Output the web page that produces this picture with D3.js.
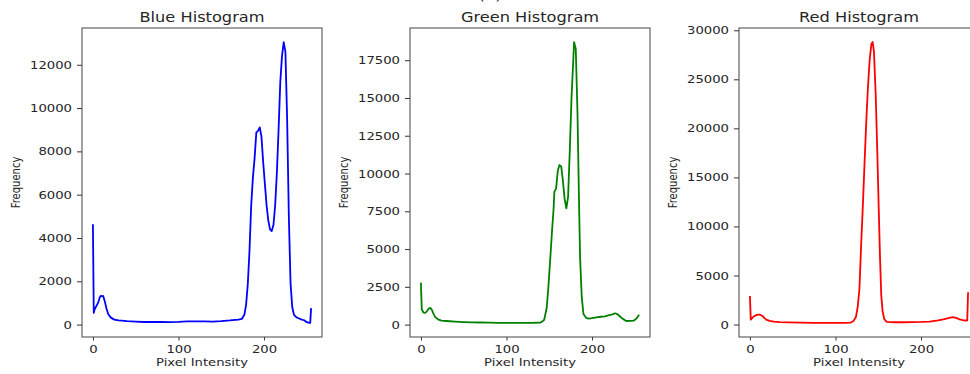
<!DOCTYPE html>
<html>
<head>
<meta charset="utf-8">
<script src="https://cdn.jsdelivr.net/npm/d3@7"></script>
<style>
  body { margin: 0; background: #fff; }
  text { font-family: "DejaVu Sans", sans-serif; fill: #262626; }
</style>
</head>
<body>
<script>
//============ histogram data ============//
var intensityBlue = [0, 1, 2, 4, 6, 8, 9, 11, 12, 14, 16, 18, 21, 25, 30, 40, 50, 60, 70, 80, 90, 100, 110, 120, 130, 140, 150, 160, 170, 174, 177, 179, 181, 183, 185, 187, 189, 191, 193, 195, 197, 199, 201, 203, 205, 207, 209, 211, 213, 215, 217, 219, 221, 223, 225, 227, 229, 231, 233, 235, 238, 241, 244, 247, 250, 253, 254, 255];
var frequencyBlue = [4630, 540, 700, 850, 1000, 1250, 1320, 1310, 1320, 1050, 720, 480, 320, 230, 190, 160, 140, 120, 120, 125, 115, 125, 150, 145, 150, 140, 160, 190, 230, 260, 450, 900, 1850, 3400, 5500, 6800, 7700, 8880, 8950, 9110, 8680, 7500, 6500, 5500, 4800, 4400, 4320, 4600, 5500, 7000, 9000, 11200, 12400, 13050, 12600, 9500, 5000, 1900, 800, 450, 330, 280, 230, 200, 110, 75, 80, 760];

var intensityGreen = [0, 1, 3, 5, 7, 9, 11, 13, 15, 17, 20, 24, 30, 40, 50, 60, 70, 80, 90, 100, 110, 120, 130, 140, 144, 147, 149, 151, 153, 155, 156, 158, 160, 162, 164, 166, 168, 170, 172, 174, 176, 178, 179, 181, 183, 185, 186, 188, 190, 193, 196, 200, 205, 210, 215, 220, 224, 227, 230, 233, 236, 240, 245, 249, 252, 255];
var frequencyGreen = [2780, 1000, 800, 780, 880, 1050, 1110, 950, 680, 480, 350, 270, 240, 200, 170, 150, 140, 130, 120, 110, 115, 110, 120, 140, 300, 1100, 2500, 4200, 6000, 7600, 8800, 9000, 10200, 10560, 10450, 9500, 8300, 7700, 8450, 11500, 15000, 17400, 18700, 18240, 14000, 7500, 4500, 1800, 700, 450, 400, 430, 480, 520, 550, 620, 680, 750, 680, 520, 380, 240, 250, 270, 400, 650];

var intensityRed = [0, 1, 3, 5, 8, 11, 13, 15, 17, 19, 23, 28, 35, 45, 60, 75, 90, 100, 110, 118, 121, 124, 126, 128, 130, 132, 134, 136, 138, 140, 142, 143.5, 145, 147, 149, 150.5, 152, 153.5, 155, 157, 160, 170, 180, 190, 200, 210, 220, 226, 232, 237, 241, 245, 249, 252, 254, 255];
var frequencyRed = [2900, 510, 700, 850, 980, 1020, 950, 850, 650, 500, 380, 290, 250, 220, 190, 170, 160, 160, 165, 200, 350, 800, 1800, 3600, 8100, 12100, 16500, 20700, 24300, 27000, 28600, 28800, 27800, 23500, 17200, 12000, 7000, 3000, 1400, 550, 280, 230, 230, 240, 260, 300, 430, 530, 650, 750, 680, 520, 450, 410, 420, 3300];

var xTicks = [0, 100, 200];
var yTicksBlue = [0, 2000, 4000, 6000, 8000, 10000, 12000];
var yTicksGreen = [0, 2500, 5000, 7500, 10000, 12500, 15000, 17500];
var yTicksRed = [0, 5000, 10000, 15000, 20000, 25000, 30000];

//============ layout ============//
var W = 970, H = 374;
var marginTop = 28, w = 240, h = 309;
var sx = 1.2; // the source picture is stretched sideways, so is the text

var panels = [
  {title: 'Blue Histogram', color: '#0000ff', xs: intensityBlue, ys: frequencyBlue, yTicks: yTicksBlue, left: 82},
  {title: 'Green Histogram', color: '#008000', xs: intensityGreen, ys: frequencyGreen, yTicks: yTicksGreen, left: 410},
  {title: 'Red Histogram', color: '#ff0000', xs: intensityRed, ys: frequencyRed, yTicks: yTicksRed, left: 739}
];

var svg = d3.select('body').append('svg')
  .attr('width', W)
  .attr('height', H);

// matplotlib style 5% margins
function pad(ext) {
  var r = ext[1] - ext[0];
  return [ext[0] - 0.05 * r, ext[1] + 0.05 * r];
}

// sub-figure caption, mostly cut off at the top
svg.append('text')
  .attr('transform', 'translate(490,0) scale(' + sx + ',1)')
  .attr('text-anchor', 'middle')
  .style('font-size', '14px')
  .text('(a)');

panels.forEach(function(p) {
  var g = svg.append('g')
    .attr('transform', 'translate(' + p.left + ',' + marginTop + ')');

  var x = d3.scaleLinear().domain(pad(d3.extent(p.xs))).range([0, w]);
  var y = d3.scaleLinear().domain(pad(d3.extent(p.ys))).range([h, 0]);

  var pts = p.xs.map(function(v, i) { return [v, p.ys[i]]; });

  var line = d3.line()
    .x(function(d) { return x(d[0]); })
    .y(function(d) { return y(d[1]); });

  g.append('path')
    .datum(pts)
    .attr('d', line)
    .attr('fill', 'none')
    .attr('stroke', p.color)
    .attr('stroke-width', 1.8)
    .attr('stroke-linejoin', 'round');

  // x axis
  var gx = g.append('g')
    .attr('transform', 'translate(0,' + h + ')')
    .call(d3.axisBottom(x).tickValues(xTicks).tickFormat(d3.format('d'))
      .tickSize(3.5).tickSizeOuter(0).tickPadding(4.7));
  gx.select('.domain').remove();
  gx.selectAll('line').attr('stroke', '#333');
  gx.selectAll('text')
    .attr('transform', 'scale(' + sx + ',1)')
    .style('font-size', '11px')
    .style('font-family', '"DejaVu Sans", sans-serif')
    .attr('fill', '#262626');

  // y axis
  var gy = g.append('g')
    .call(d3.axisLeft(y).tickValues(p.yTicks).tickFormat(d3.format('d'))
      .tickSize(5).tickSizeOuter(0));
  gy.select('.domain').remove();
  gy.selectAll('line').attr('stroke', '#333');
  gy.selectAll('text')
    .attr('x', -10 / sx)
    .attr('transform', 'scale(' + sx + ',1)')
    .style('font-size', '11px')
    .style('font-family', '"DejaVu Sans", sans-serif')
    .attr('fill', '#262626');

  // frame
  g.append('rect')
    .attr('width', w)
    .attr('height', h)
    .attr('fill', 'none')
    .attr('stroke', '#444')
    .attr('stroke-width', 1);

  // title
  g.append('text')
    .attr('transform', 'translate(' + w / 2 + ',-6.5) scale(' + sx + ',1)')
    .attr('text-anchor', 'middle')
    .style('font-size', '13.5px')
    .text(p.title);

  // axis labels
  g.append('text')
    .attr('transform', 'translate(' + w / 2 + ',' + (h + 29) + ') scale(' + sx + ',1)')
    .attr('text-anchor', 'middle')
    .style('font-size', '11px')
    .text('Pixel Intensity');

  g.append('text')
    .attr('transform', 'translate(-62.5,' + h / 2 + ') rotate(-90) scale(1,' + sx + ')')
    .attr('text-anchor', 'middle')
    .style('font-size', '10px')
    .text('Frequency');
});
</script>
</body>
</html>
